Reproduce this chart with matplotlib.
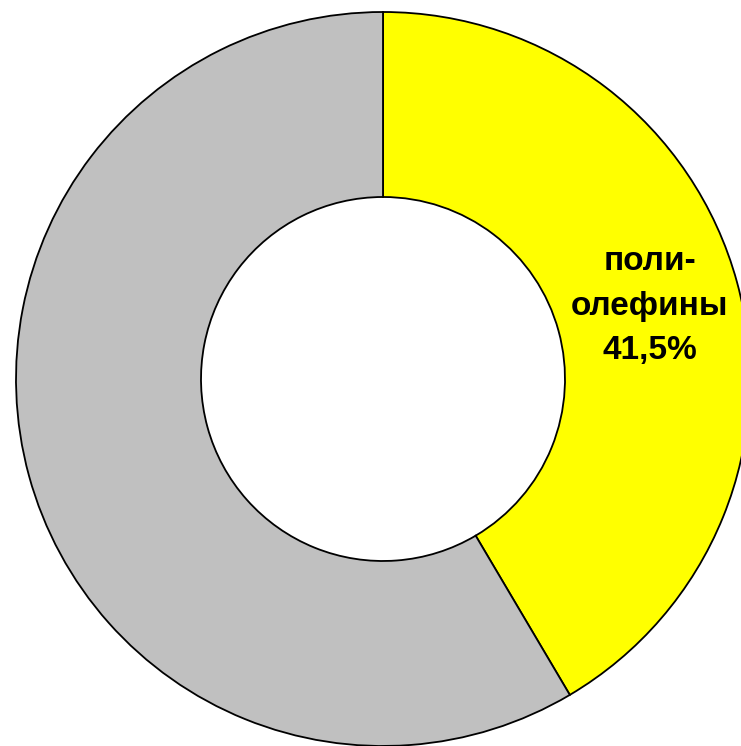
import matplotlib.pyplot as plt

labels = ['поли-\nолефины\n41,5%', '']
values = [41.5, 58.5]
colors = ['#ffff00', '#c0c0c0']

fig = plt.figure(figsize=(7.41, 7.46), dpi=100)
ax = fig.add_axes([0, 0, 1, 1])

outer = 367
inner = 182

ax.pie(values, colors=colors, startangle=90, counterclock=False,
       radius=outer,
       wedgeprops=dict(width=outer - inner, edgecolor='black', linewidth=1.3))

ax.text(650 - 383, 379 - 306, labels[0], ha='center', va='center', fontsize=24,
        fontweight='bold', family=['Liberation Sans', 'DejaVu Sans'],
        linespacing=1.55)

ax.set_xlim(-383, 358)
ax.set_ylim(-367, 379)
ax.set_aspect('equal')
ax.axis('off')

fig.savefig('out.png', dpi=100)
